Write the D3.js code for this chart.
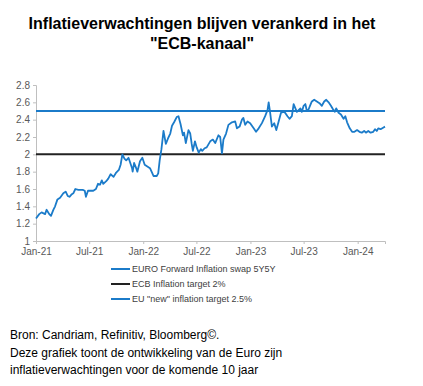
<!DOCTYPE html>
<html>
<head>
<meta charset="utf-8">
<script src="https://cdn.jsdelivr.net/npm/d3@7"></script>
<style>
  body { margin: 0; background: #fff; }
  svg { display: block; font-family: "Liberation Sans", Arial, sans-serif; }
</style>
</head>
<body>
<div id="zone"></div>
<script>
(function() {
  "use strict";

  // données
  var dates = [
    "2021-01-01","2021-01-12","2021-01-20","2021-02-01","2021-02-06","2021-02-15","2021-02-21","2021-03-01",
    "2021-03-07","2021-03-15","2021-03-24","2021-04-04","2021-04-12","2021-04-19","2021-04-25","2021-05-03",
    "2021-05-08","2021-05-15","2021-05-25","2021-06-09","2021-06-16","2021-06-20","2021-06-27","2021-07-15",
    "2021-07-24","2021-07-31","2021-08-07","2021-08-13","2021-08-18","2021-08-28","2021-09-04","2021-09-12",
    "2021-09-22","2021-10-01","2021-10-10","2021-10-16","2021-10-22","2021-10-29","2021-11-04","2021-11-12",
    "2021-11-20","2021-11-24","2021-11-26","2021-12-01","2021-12-08","2021-12-12","2021-12-21","2021-12-29",
    "2022-01-06","2022-01-15","2022-01-24","2022-01-31","2022-02-05","2022-02-16","2022-02-21","2022-02-26",
    "2022-03-04","2022-03-11","2022-03-19","2022-03-26","2022-04-03","2022-04-09","2022-04-16","2022-04-25",
    "2022-05-01","2022-05-08","2022-05-16","2022-05-20","2022-05-26","2022-06-04","2022-06-10","2022-06-15",
    "2022-06-19","2022-06-26","2022-07-02","2022-07-09","2022-07-16","2022-07-21","2022-07-29","2022-08-05",
    "2022-08-17","2022-08-26","2022-09-03","2022-09-14","2022-09-20","2022-09-26","2022-10-01","2022-10-10",
    "2022-10-18","2022-10-30","2022-11-10","2022-11-16","2022-11-25","2022-12-03","2022-12-08","2022-12-14",
    "2022-12-22","2022-12-31","2023-01-12","2023-01-20","2023-01-29","2023-02-09","2023-02-20","2023-02-28",
    "2023-03-04","2023-03-09","2023-03-15","2023-03-23","2023-03-30","2023-04-07","2023-04-15","2023-04-24",
    "2023-04-29","2023-05-07","2023-05-14","2023-05-22","2023-05-28","2023-06-03","2023-06-08","2023-06-14",
    "2023-06-20","2023-06-25","2023-07-01","2023-07-07","2023-07-12","2023-07-18","2023-07-24","2023-07-29",
    "2023-08-06","2023-08-15","2023-08-24","2023-09-01","2023-09-09","2023-09-16","2023-09-24","2023-10-02",
    "2023-10-09","2023-10-15","2023-10-20","2023-10-28","2023-11-05","2023-11-14","2023-11-20","2023-11-26",
    "2023-12-05","2023-12-13","2023-12-21","2023-12-30","2024-01-07","2024-01-15","2024-01-23","2024-01-29",
    "2024-02-06","2024-02-14","2024-02-23","2024-02-29","2024-03-06","2024-03-11","2024-03-19","2024-03-29",
    "2024-04-03"
  ];
  var swap5y5y = [
    1.26,1.31,1.33,1.31,1.36,1.31,1.29,1.36,
    1.40,1.48,1.50,1.55,1.57,1.52,1.51,1.54,
    1.55,1.60,1.59,1.59,1.58,1.51,1.58,1.58,
    1.60,1.66,1.65,1.70,1.66,1.69,1.72,1.77,
    1.74,1.79,1.82,1.88,2.00,1.95,1.93,1.96,
    1.88,1.84,1.80,1.90,1.84,1.80,1.92,1.96,
    1.88,1.86,1.84,1.79,1.75,1.75,1.78,1.93,
    2.06,2.27,2.12,2.18,2.24,2.33,2.37,2.43,
    2.44,2.35,2.22,2.25,2.13,2.28,2.24,2.12,
    2.04,2.15,2.08,2.02,2.06,2.04,2.07,2.08,
    2.15,2.17,2.13,2.22,2.20,2.01,2.17,2.24,
    2.34,2.37,2.38,2.30,2.32,2.40,2.42,2.34,
    2.38,2.36,2.30,2.26,2.30,2.36,2.44,2.51,
    2.60,2.48,2.32,2.36,2.28,2.38,2.48,2.49,
    2.48,2.44,2.41,2.44,2.58,2.53,2.49,2.51,
    2.53,2.49,2.56,2.58,2.50,2.52,2.57,2.61,
    2.63,2.61,2.59,2.56,2.61,2.63,2.60,2.56,
    2.52,2.49,2.53,2.48,2.46,2.41,2.44,2.37,
    2.30,2.26,2.26,2.28,2.26,2.25,2.27,2.25,
    2.27,2.25,2.26,2.29,2.27,2.30,2.29,2.31,
    2.32
  ];
  var ecbTarget = 2.0;
  var euNewTarget = 2.5;
  var yTicks = [1, 1.2, 1.4, 1.6, 1.8, 2, 2.2, 2.4, 2.6, 2.8];
  var xTicks = ["2021-01-01","2021-07-01","2022-01-01","2022-07-01","2023-01-01","2023-07-01","2024-01-01"];
  var legendLabels = ["EURO Forward Inflation swap 5Y5Y", "ECB Inflation target 2%", "EU \"new\" inflation target 2.5%"];
  var titleLines = ["Inflatieverwachtingen blijven verankerd in het", "\"ECB-kanaal\""];
  var sourceLines = [
    "Bron: Candriam, Refinitiv, Bloomberg\u00a9.",
    "Deze grafiek toont de ontwikkeling van de Euro zijn",
    "inflatieverwachtingen voor de komende 10 jaar"
  ];

  var blue = "#1b7bc9";
  var parse = d3.timeParse("%Y-%m-%d");
  var data = dates.map(function(d, i) { return { date: parse(d), value: swap5y5y[i] }; });

  var width = 423, height = 386;
  var left = 36, right = 385, top = 85, bottom = 241;

  var svg = d3.select("#zone").append("svg")
    .attr("width", width)
    .attr("height", height);

  // titre
  svg.append("g").selectAll("text")
    .data(titleLines)
    .join("text")
    .attr("x", 202)
    .attr("y", function(d, i) { return 29 + i * 20; })
    .attr("text-anchor", "middle")
    .attr("font-size", "16px")
    .attr("font-weight", "bold")
    .attr("fill", "#000")
    .text(function(d) { return d; });

  var x = d3.scaleTime()
    .domain([parse("2021-01-01"), parse("2024-04-03")])
    .range([left, right]);

  var y = d3.scaleLinear()
    .domain([1, 2.8])
    .range([bottom, top]);

  // axe Y
  var yAxis = svg.append("g")
    .attr("transform", "translate(" + left + ",0)")
    .call(d3.axisLeft(y).tickValues(yTicks).tickSize(3).tickPadding(3).tickFormat(d3.format("")));
  yAxis.select(".domain").attr("stroke", "#bfbfbf");
  yAxis.selectAll(".tick line").attr("stroke", "#bfbfbf");
  yAxis.selectAll("text").attr("font-size", "10px").attr("fill", "#595959").attr("font-family", "Liberation Sans, Arial, sans-serif");

  // axe X
  var xAxis = svg.append("g")
    .attr("transform", "translate(0," + bottom + ")")
    .call(d3.axisBottom(x).tickValues(xTicks.map(parse)).tickSize(3).tickPadding(4).tickFormat(d3.timeFormat("%b-%y")));
  xAxis.select(".domain").attr("stroke", "#bfbfbf");
  xAxis.selectAll(".tick line").attr("stroke", "#bfbfbf");
  xAxis.selectAll("text").attr("font-size", "10px").attr("fill", "#595959").attr("font-family", "Liberation Sans, Arial, sans-serif");

  // lignes cibles
  svg.append("line")
    .attr("x1", left).attr("x2", right)
    .attr("y1", y(ecbTarget)).attr("y2", y(ecbTarget))
    .attr("stroke", "#222").attr("stroke-width", 2);

  svg.append("line")
    .attr("x1", left).attr("x2", right)
    .attr("y1", y(euNewTarget)).attr("y2", y(euNewTarget))
    .attr("stroke", blue).attr("stroke-width", 2);

  // série
  var line = d3.line()
    .x(function(d) { return x(d.date); })
    .y(function(d) { return y(d.value); });

  svg.append("path")
    .datum(data)
    .attr("fill", "none")
    .attr("stroke", blue)
    .attr("stroke-width", 1.8)
    .attr("stroke-linejoin", "round")
    .attr("d", line);

  // légende
  var legendColors = [blue, "#222", blue];
  var legend = svg.append("g").selectAll("g")
    .data(legendLabels)
    .join("g")
    .attr("transform", function(d, i) { return "translate(111," + (269 + i * 15) + ")"; });
  legend.append("line")
    .attr("x1", 0).attr("x2", 19)
    .attr("stroke", function(d, i) { return legendColors[i]; })
    .attr("stroke-width", 2);
  legend.append("text")
    .attr("x", 21)
    .attr("dy", "0.35em")
    .attr("font-size", "9px")
    .attr("fill", "#404040")
    .text(function(d) { return d; });

  // source
  svg.append("g").selectAll("text")
    .data(sourceLines)
    .join("text")
    .attr("x", 10)
    .attr("y", function(d, i) { return 339 + i * 17.5; })
    .attr("font-size", "12px")
    .attr("fill", "#000")
    .text(function(d) { return d; });

})();
</script>
</body>
</html>
